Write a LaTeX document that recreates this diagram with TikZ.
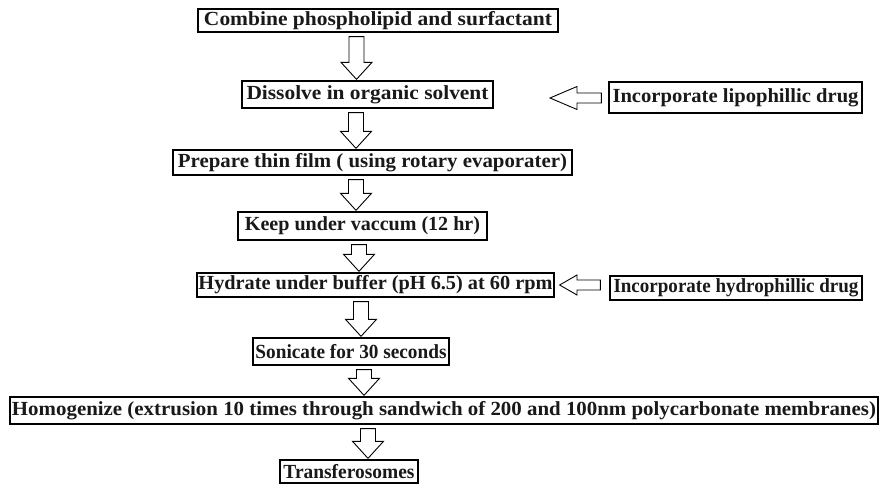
\documentclass[tikz,border=0pt]{standalone}
\usepackage{fontspec}
\setmainfont{Liberation Serif}
\usepackage{graphicx}
\usetikzlibrary{calc}
\newcommand\fitw[2]{\resizebox{#1}{\height}{#2}}
\tikzset{
  stepbox/.style={draw=black, line width=1.3pt, inner sep=0pt, fill=white,
    font=\bfseries\fontsize{20}{22}\selectfont, text=black!90},
  blockarr/.style={draw=black, line width=0.9pt, fill=white, line join=miter}
}
% vertical hollow arrow: #1 = x (pt), #2 = upper node, #3 = lower node
\newcommand\varrow[3]{%
  \draw[blockarr] let \p1=(#2.south), \p2=(#3.north) in
    (#1pt-7.5pt,\y1-4pt) -- (#1pt+7.5pt,\y1-4pt) -- (#1pt+7.5pt,\y2+18pt)
    -- (#1pt+15.5pt,\y2+18pt) -- (#1pt,\y2+1pt) -- (#1pt-15.5pt,\y2+18pt)
    -- (#1pt-7.5pt,\y2+18pt) -- cycle;}
\begin{document}
\begin{tikzpicture}[x=1pt,y=1pt]
\useasboundingbox (0,0) rectangle (887,-484);
\node[stepbox, minimum width=360pt, minimum height=23pt] (n1) at (378,-20.5)
  {\fitw{348pt}{Combine phospholipid and surfactant}};
\node[stepbox, minimum width=251pt, minimum height=27pt] (n2) at (367.5,-94.5)
  {\fitw{242pt}{Dissolve in organic solvent}};
\node[stepbox, minimum width=253pt, minimum height=31pt] (lipo) at (735.5,-97.5)
  {\fitw{246pt}{Incorporate lipophillic drug}};
\node[stepbox, minimum width=399pt, minimum height=25pt] (n3) at (372.5,-162.5)
  {\fitw{389pt}{Prepare thin film ( using rotary evaporater)}};
\node[stepbox, minimum width=249pt, minimum height=28pt] (n4) at (362.5,-226)
  {\fitw{235pt}{Keep under vaccum (12 hr)}};
\node[stepbox, minimum width=357pt, minimum height=24pt] (n5) at (375.5,-285)
  {\fitw{354pt}{Hydrate under buffer (pH 6.5) at 60 rpm}};
\node[stepbox, minimum width=252pt, minimum height=24pt] (hydro) at (736,-288)
  {\fitw{245pt}{Incorporate hydrophillic drug}};
\node[stepbox, minimum width=196pt, minimum height=27pt] (n6) at (351,-351.5)
  {\fitw{191pt}{Sonicate for 30 seconds}};
\node[stepbox, minimum width=868pt, minimum height=27pt] (n7) at (444,-410.5)
  {\fitw{864pt}{Homogenize (extrusion 10 times through sandwich of 200 and 100nm polycarbonate membranes)}};
\node[stepbox, minimum width=138pt, minimum height=23pt] (n8) at (349,-471.5)
  {\fitw{131pt}{Transferosomes}};

\varrow{356.5}{n1}{n2}
\varrow{356}{n2}{n3}
\varrow{356}{n3}{n4}
\varrow{359}{n4}{n5}
\varrow{361}{n5}{n6}
\varrow{364}{n6}{n7}
\varrow{368}{n7}{n8}

% horizontal hollow arrows
\coordinate (liptip) at (550,-98);
\draw[blockarr] let \p1=(lipo.west), \p2=(liptip) in
  (\x1-7pt,\y2+5pt) -- (577pt,\y2+5pt) -- (577pt,\y2+11.5pt) -- (\x2,\y2)
  -- (577pt,\y2-11.5pt) -- (577pt,\y2-5pt) -- (\x1-7pt,\y2-5pt) -- cycle;
\draw[blockarr] let \p1=(hydro.west), \p2=(n5.east) in
  (\x1-9pt,\y2+5pt) -- (577pt,\y2+5pt) -- (577pt,\y2+10pt) -- (\x2+5pt,\y2)
  -- (577pt,\y2-10pt) -- (577pt,\y2-5pt) -- (\x1-9pt,\y2-5pt) -- cycle;
\end{tikzpicture}
\end{document}
